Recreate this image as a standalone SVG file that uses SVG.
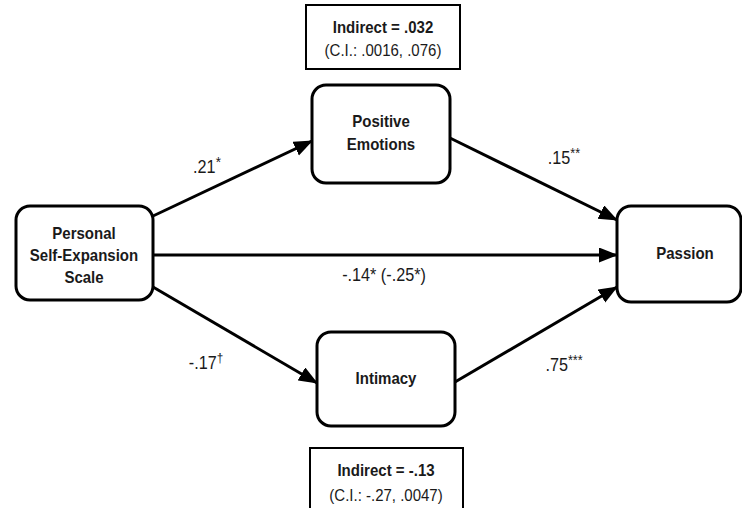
<svg xmlns="http://www.w3.org/2000/svg" width="742" height="508" viewBox="0 0 742 508">
<style>
.node{fill:#fff;stroke:#000;stroke-width:3}
.box{fill:#fff;stroke:#000;stroke-width:2}
.nt{font-family:"Liberation Sans",Arial,sans-serif;font-weight:bold;font-size:16.5px;fill:#1a1a1a;text-anchor:middle}
.ct{font-family:"Liberation Sans",Arial,sans-serif;font-size:16.5px;fill:#1a1a1a;text-anchor:middle}
.lt{font-family:"Liberation Sans",Arial,sans-serif;font-size:18px;fill:#1a1a1a;text-anchor:middle}
.edge{stroke:#000;stroke-width:3;fill:none;marker-end:url(#ah)}
</style>
<defs>
<marker id="ah" markerUnits="userSpaceOnUse" markerWidth="20" markerHeight="16" refX="18" refY="7.5" orient="auto">
<path d="M0,0 L19,7.5 L0,15 z" fill="#000"/>
</marker>
</defs>
<g id="connectors">
<line class="edge" x1="153" y1="216" x2="312" y2="141"/>
<line class="edge" x1="450" y1="138" x2="617" y2="220"/>
<line class="edge" x1="153" y1="255" x2="617" y2="255"/>
<line class="edge" x1="153" y1="287" x2="317" y2="383"/>
<line class="edge" x1="455" y1="382" x2="617" y2="287"/>
<text class="lt" transform="translate(207,0) scale(0.9,1)" x="0" y="173">.21<tspan font-size="15" dy="-6">*</tspan></text>
<text class="lt" transform="translate(564,0) scale(0.9,1)" x="0" y="164">.15<tspan font-size="14" dy="-6">**</tspan></text>
<text class="lt" transform="translate(384,0) scale(0.9,1)" x="0" y="281">-.14* (-.25*)</text>
<text class="lt" transform="translate(206,0) scale(0.9,1)" x="0" y="369">-.17<tspan font-size="13" dy="-7">†</tspan></text>
<text class="lt" transform="translate(564,0) scale(0.9,1)" x="0" y="371">.75<tspan font-size="14" dy="-6">***</tspan></text>
</g>
<g id="indirect-top">
<rect class="box" x="306" y="5" width="154" height="64"/>
<text class="nt" transform="translate(383,0) scale(0.91,1)" x="0" y="33">Indirect = .032</text>
<text class="ct" transform="translate(383,0) scale(0.91,1)" x="0" y="56">(C.I.: .0016, .076)</text>
</g>
<g id="indirect-bottom">
<rect class="box" x="310" y="448" width="153" height="64"/>
<text class="nt" transform="translate(386,0) scale(0.91,1)" x="0" y="476">Indirect = -.13</text>
<text class="ct" transform="translate(386,0) scale(0.91,1)" x="0" y="501">(C.I.: -.27, .0047)</text>
</g>
<g id="personal">
<rect class="node" x="16" y="206" width="137" height="94" rx="14"/>
<text class="nt" transform="translate(84,0) scale(0.91,1)" x="0" y="239">Personal</text>
<text class="nt" transform="translate(84,0) scale(0.91,1)" x="0" y="261">Self-Expansion</text>
<text class="nt" transform="translate(84,0) scale(0.91,1)" x="0" y="283">Scale</text>
</g>
<g id="positive-emotions">
<rect class="node" x="312" y="85" width="138" height="98" rx="14"/>
<text class="nt" transform="translate(381,0) scale(0.91,1)" x="0" y="127">Positive</text>
<text class="nt" transform="translate(381,0) scale(0.91,1)" x="0" y="150">Emotions</text>
</g>
<g id="intimacy">
<rect class="node" x="317" y="332" width="138" height="94" rx="14"/>
<text class="nt" transform="translate(386,0) scale(0.91,1)" x="0" y="384">Intimacy</text>
</g>
<g id="passion">
<rect class="node" x="617" y="206" width="124" height="96" rx="14"/>
<text class="nt" transform="translate(685,0) scale(0.91,1)" x="0" y="259">Passion</text>
</g>
</svg>
